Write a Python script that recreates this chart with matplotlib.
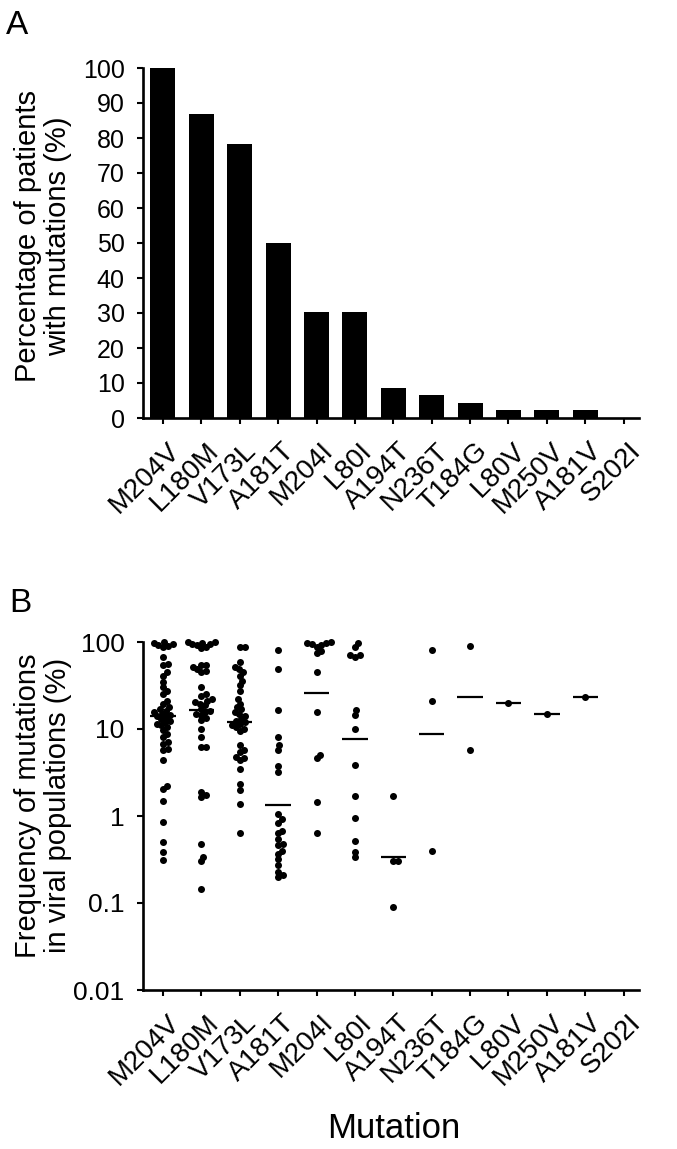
import numpy as np
import matplotlib
matplotlib.use('Agg')
import matplotlib.pyplot as plt
import matplotlib.transforms as mtrans

plt.rcParams['font.family'] = ['Liberation Sans', 'DejaVu Sans']

mutations = ['M204V', 'L180M', 'V173L', 'A181T', 'M204I', 'L80I', 'A194T',
             'N236T', 'T184G', 'L80V', 'M250V', 'A181V', 'S202I']

# panel A: % of patients carrying each mutation
pct_patients = [100, 87, 78.3, 50, 30.4, 30.4, 8.7, 6.5, 4.3, 2.2, 2.2, 2.2, 0]

# panel B: frequency of each mutation in the viral population of each patient (%)
freq_M204V = [100, 97, 95, 92, 90, 88, 67, 56, 54, 45, 41, 35, 30, 27, 25, 21,
              19.6, 18, 17, 16, 15.7, 15, 14.5, 14, 13.7, 13, 12.5, 12, 11.5, 11,
              10.5, 9.7, 8.8, 8.1, 7.1, 6.8, 5.9, 5.7, 4.4, 2.2, 2.06, 1.5, 0.85,
              0.5, 0.39, 0.31]
freq_L180M = [100, 100, 98, 95, 95, 92, 88, 85, 54, 54, 51, 49, 47, 45, 30, 25.5,
              24, 22, 21, 20.5, 19.6, 18.7, 17, 16, 15.7, 15, 14.4, 13.5, 12.6, 10,
              8.1, 6.2, 6.2, 1.9, 1.74, 1.66, 0.48, 0.34, 0.30, 0.146]
freq_V173L = [88, 88, 59, 51, 49, 45, 41, 36, 32, 27.7, 22, 19.6, 18, 17, 15.7, 15,
              14, 13.2, 12.5, 12, 11.5, 11, 10.5, 10, 9.5, 6.5, 5.7, 5.4, 4.8, 4.6,
              4.4, 3.5, 2.35, 1.97, 1.38, 0.63]
freq_A181T = [80, 49, 16.4, 8.1, 6.5, 5.7, 3.8, 3.2, 1.06, 0.92, 0.84, 0.68, 0.63,
              0.55, 0.48, 0.46, 0.40, 0.37, 0.32, 0.275, 0.23, 0.21, 0.2]
freq_M204I = [100, 98, 97, 94, 92, 88, 78, 75, 45, 15.7, 5, 4.6, 1.44, 0.63]
freq_L80I = [98, 88, 70, 70, 67, 16.4, 14.4, 10, 3.9, 1.68, 0.95, 0.51, 0.39, 0.34]
freq_A194T = [1.68, 0.3, 0.3, 0.09]
freq_N236T = [80, 20.8, 0.4]
freq_T184G = [91, 5.8]
freq_L80V = [20]
freq_M250V = [14.7]
freq_A181V = [23.3]
freq_S202I = []

# horizontal bar in panel B (mean)
mean_freq = [14, 16.4, 12, 1.35, 26, 7.7, 0.34, 8.8, 23.3, 20, 14.7, 23.3, np.nan]

freqs = [freq_M204V, freq_L180M, freq_V173L, freq_A181T, freq_M204I, freq_L80I,
         freq_A194T, freq_N236T, freq_T184G, freq_L80V, freq_M250V, freq_A181V,
         freq_S202I]

W, H = 677, 1149
fig = plt.figure(figsize=(W/100, H/100), dpi=100)

left = 143/W
width = (639-143)/W
ax1 = fig.add_axes([left, 1-418/H, width, (418-68)/H])
ax2 = fig.add_axes([left, 1-990/H, width, (990-642)/H])

x = np.arange(len(mutations))
xlim = (-0.52, len(mutations) - 0.6)

shift = mtrans.ScaledTranslation(4/100, 0, fig.dpi_scale_trans)
for ax, ysize in ((ax1, 18), (ax2, 19)):
    for s in ['top', 'right']:
        ax.spines[s].set_visible(False)
    for s in ['left', 'bottom']:
        ax.spines[s].set_linewidth(1.9)
    ax.tick_params(direction='out', length=4.3, width=1.5, color='black')
    ax.set_xlim(xlim)
    ax.set_xticks(x)
    ax.set_xticklabels(mutations, rotation=45, ha='right', va='top',
                       rotation_mode='anchor', fontsize=20)
    ax.tick_params(axis='x', pad=10)
    ax.tick_params(axis='y', labelsize=ysize, pad=9)
    for lab in ax.get_xticklabels():
        lab.set_transform(lab.get_transform() + shift)

# ---- panel A
ax1.bar(x, pct_patients, width=0.65, color='black')
ax1.set_ylim(0, 100)
ax1.set_yticks(np.arange(0, 101, 10))
ax1.set_ylabel('Percentage of patients\nwith mutations (%)', fontsize=21,
               linespacing=1.1)
ax1.yaxis.set_label_coords(-0.143, 0.52)

# ---- panel B
ax2.set_yscale('log')
ax2.set_ylim(0.01, 100)
ax2.set_yticks([0.01, 0.1, 1, 10, 100])
ax2.set_yticklabels(['0.01', '0.1', '1', '10', '100'])
ax2.minorticks_off()
ax2.set_ylabel('Frequency of mutations\nin viral populations (%)', fontsize=21,
               linespacing=1.1)
ax2.yaxis.set_label_coords(-0.143, 0.53)

# simple beeswarm layout in pixel space
dot_px = 7.0
gap = dot_px * 0.72
px_per_unit = (639-143) / (xlim[1] - xlim[0])


def swarm(ypix, d):
    offs = np.zeros(len(ypix))
    placed = []
    for i in np.argsort(ypix):
        y = ypix[i]
        near = [(px, py) for px, py in placed if abs(py - y) < d]
        cands = [0.0]
        for px, py in near:
            dx = np.sqrt(d*d - (py - y)**2)
            cands += [px + dx, px - dx]
        cands.sort(key=abs)
        best = cands[-1]
        for c in cands:
            if all((c - px)**2 + (py - y)**2 >= d*d - 1e-6 for px, py in near):
                best = c
                break
        offs[i] = best
        placed.append((best, y))
    return offs


for i, vals in enumerate(freqs):
    if len(vals) == 0:
        continue
    vals = np.array(vals, dtype=float)
    ypix = ax2.transData.transform(np.column_stack([np.zeros(len(vals)), vals]))[:, 1]
    offs = swarm(ypix, gap) / px_per_unit
    ax2.plot(i + offs, vals, 'o', color='black', markersize=dot_px*0.72,
             markeredgewidth=0, clip_on=False, zorder=3)
    if not np.isnan(mean_freq[i]):
        ax2.plot([i - 0.33, i + 0.33], [mean_freq[i], mean_freq[i]], '-',
                 color='black', lw=1.6, zorder=4, solid_capstyle='butt')

fig.text(394/W, 1-1128/H, 'Mutation', fontsize=25, ha='center', va='center')
fig.text(6/W, 1-26/H, 'A', fontsize=24, ha='left', va='center')
fig.text(9/W, 1-604/H, 'B', fontsize=24, ha='left', va='center')

fig.savefig('out.png', dpi=100)
